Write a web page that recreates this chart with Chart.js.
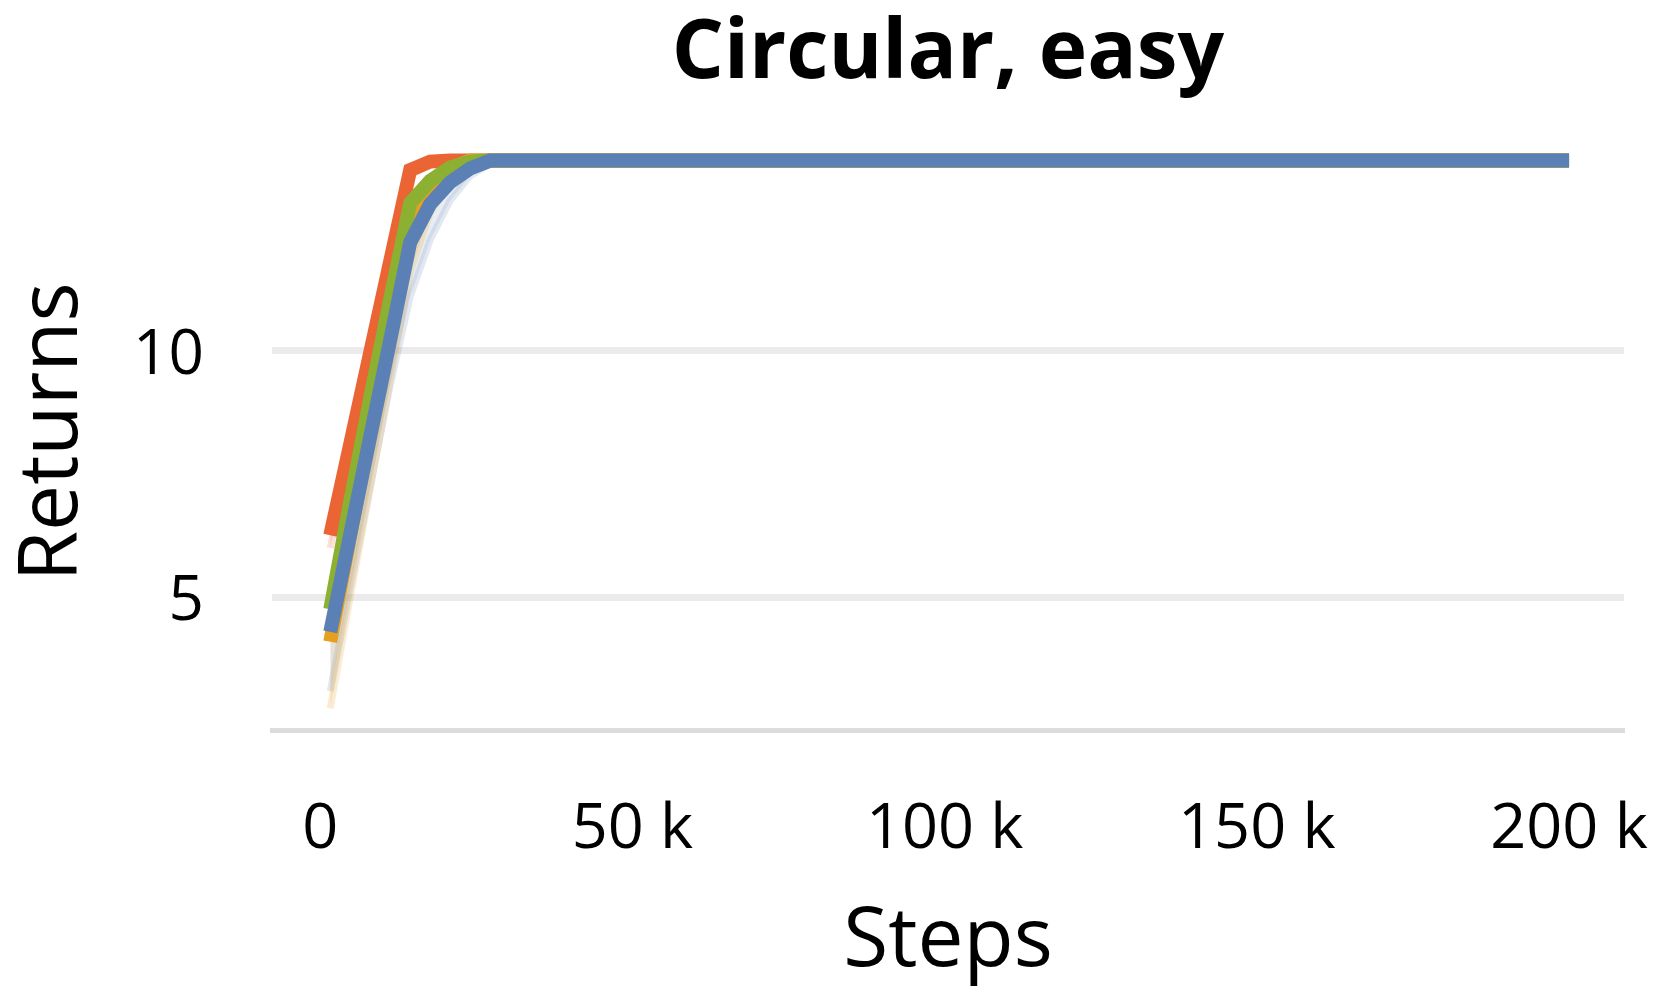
<!DOCTYPE html>
<html>
<head>
<meta charset="utf-8">
<script src="https://cdn.jsdelivr.net/npm/chart.js@4.4.1/dist/chart.umd.min.js"></script>
<style>
  body { margin: 0; background: #fff; }
  #chart { display: block; }
</style>
</head>
<body>
<canvas id="chart" width="1662" height="992"></canvas>
<script>
const chartTitle = "Circular, easy";

// Evaluation steps (x axis)
const steps = [1600, 4800, 8000, 11200, 14400, 17600, 20800, 24000, 27200, 30400, 50000, 100000, 150000, 200000];

// Mean returns per run
const redReturns    = [6.26, 8.11, 9.97, 11.82, 13.67, 13.84, 13.86, 13.86, 13.86, 13.86, 13.86, 13.86, 13.86, 13.86];
const orangeReturns = [4.10, 6.25, 8.38, 10.50, 12.50, 13.30, 13.70, 13.86, 13.86, 13.86, 13.86, 13.86, 13.86, 13.86];
const greenReturns  = [4.76, 6.95, 9.05, 11.05, 13.00, 13.45, 13.72, 13.84, 13.86, 13.86, 13.86, 13.86, 13.86, 13.86];
const blueReturns   = [4.30, 6.28, 8.26, 10.22, 12.20, 12.98, 13.42, 13.70, 13.86, 13.86, 13.86, 13.86, 13.86, 13.86];

// Spread (low / high) around each run
const redLow     = [6.00, 7.90, 9.80, 11.70, 13.55, 13.80, 13.86, 13.86, 13.86, 13.86, 13.86, 13.86, 13.86, 13.86];
const redHigh    = [6.50, 8.30, 10.15, 12.00, 13.75, 13.86, 13.86, 13.86, 13.86, 13.86, 13.86, 13.86, 13.86, 13.86];
const orangeLow  = [2.75, 5.00, 7.20, 9.40, 11.60, 12.80, 13.40, 13.76, 13.86, 13.86, 13.86, 13.86, 13.86, 13.86];
const orangeHigh = [4.50, 6.60, 8.70, 10.80, 12.80, 13.50, 13.80, 13.86, 13.86, 13.86, 13.86, 13.86, 13.86, 13.86];
const blueLow    = [3.10, 5.20, 7.25, 9.30, 11.10, 12.25, 13.05, 13.55, 13.80, 13.86, 13.86, 13.86, 13.86, 13.86];
const blueHigh   = [4.90, 6.80, 8.70, 10.60, 12.60, 13.30, 13.60, 13.80, 13.86, 13.86, 13.86, 13.86, 13.86, 13.86];

const yTicks = [5, 10];
const xTicks = [0, 50000, 100000, 150000, 200000];

const fontFamily = "'Open Sans', 'Noto Sans', sans-serif";

const toPoints = (ys) => steps.map((x, i) => ({ x: x, y: ys[i] }));

// thick main line
const mainLine = (label, ys, color, order) => ({
  label: label,
  data: toPoints(ys),
  borderColor: color,
  borderWidth: 14,
  pointRadius: 0,
  fill: false,
  order: order,
});

// faint band between two bounds
const band = (label, low, high, rgb) => [
  {
    label: label + " low",
    data: toPoints(low),
    borderColor: `rgba(${rgb}, 0.2)`,
    borderWidth: 7,
    pointRadius: 0,
    fill: false,
    order: 20,
  },
  {
    label: label + " high",
    data: toPoints(high),
    borderColor: `rgba(${rgb}, 0.15)`,
    borderWidth: 7,
    pointRadius: 0,
    backgroundColor: `rgba(${rgb}, 0.16)`,
    fill: "-1",
    order: 20,
  },
];

// title centred over the plot area
const titlePlugin = {
  id: "titleText",
  afterDraw(chart) {
    const ctx = chart.ctx;
    const area = chart.chartArea;
    ctx.save();
    ctx.font = `bold 82px ${fontFamily}`;
    ctx.fillStyle = "#000";
    ctx.textAlign = "center";
    ctx.textBaseline = "alphabetic";
    ctx.fillText(chartTitle, (area.left + area.right) / 2, 78);
    ctx.restore();
  },
};

new Chart(document.getElementById("chart"), {
  type: "line",
  data: {
    datasets: [
      ...band("red", redLow, redHigh, "234, 100, 52"),
      ...band("orange", orangeLow, orangeHigh, "229, 160, 40"),
      ...band("blue", blueLow, blueHigh, "110, 140, 185"),
      mainLine("red", redReturns, "#EA6434", 4),
      mainLine("orange", orangeReturns, "#E5A020", 3),
      mainLine("green", greenReturns, "#8CB032", 2),
      mainLine("blue", blueReturns, "#5B80B6", 1),
    ],
  },
  plugins: [titlePlugin],
  options: {
    responsive: false,
    animation: false,
    layout: { padding: { top: 134, right: 38, left: 0, bottom: 0 } },
    plugins: {
      legend: { display: false },
      tooltip: { enabled: false },
      title: { display: false },
    },
    scales: {
      x: {
        type: "linear",
        min: -7730,
        max: 208800,
        afterBuildTicks: (axis) => { axis.ticks = xTicks.map(v => ({ value: v })); },
        afterFit: (axis) => {
          axis.height = 262;
          axis.paddingLeft = 0;
          axis.paddingRight = 0;
        },
        grid: { display: false, drawTicks: false },
        border: { display: true, color: "#dcdcdc", width: 5 },
        ticks: {
          color: "#000",
          padding: 62,
          maxRotation: 0,
          font: { family: fontFamily, size: 63 },
          callback: (v) => (v === 0 ? "0" : v / 1000 + " k"),
        },
        title: {
          display: true,
          text: "Steps",
          color: "#000",
          padding: { top: 8, bottom: 0 },
          font: { family: fontFamily, size: 82 },
        },
      },
      y: {
        min: 2.31,
        max: 14.4,
        afterBuildTicks: (axis) => { axis.ticks = yTicks.map(v => ({ value: v })); },
        afterFit: (axis) => { axis.width = 272; },
        grid: { color: "#ebebeb", lineWidth: 7, drawTicks: false },
        border: { display: false },
        ticks: {
          color: "#000",
          padding: 68,
          labelOffset: 5,
          font: { family: fontFamily, size: 62 },
        },
        title: {
          display: true,
          text: "Returns",
          color: "#000",
          padding: { top: 4, bottom: 0 },
          font: { family: fontFamily, size: 82 },
        },
      },
    },
  },
});
</script>
</body>
</html>
